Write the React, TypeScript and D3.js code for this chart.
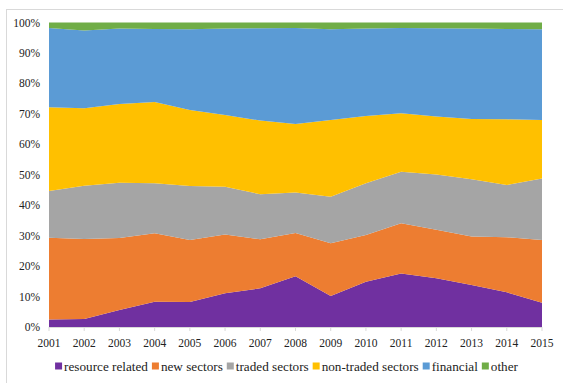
import React from "react";
import * as d3 from "d3";

// Sector shares of total (percent), 2001–2015
const years = [2001, 2002, 2003, 2004, 2005, 2006, 2007, 2008, 2009, 2010, 2011, 2012, 2013, 2014, 2015];
const resourceRelated = [2.5, 2.6, 5.6, 8.3, 8.2, 11.1, 12.7, 16.7, 10.2, 14.9, 17.6, 16.0, 13.8, 11.4, 8.0];
const newSectors = [26.8, 26.3, 23.6, 22.5, 20.4, 19.3, 16.1, 14.2, 17.3, 15.3, 16.5, 15.9, 15.9, 18.1, 20.6];
const tradedSectors = [15.4, 17.5, 18.2, 16.4, 17.7, 15.7, 14.8, 13.3, 15.3, 17.0, 16.9, 18.2, 18.8, 17.1, 20.2];
const nonTradedSectors = [27.5, 25.4, 25.8, 26.7, 25.0, 23.5, 24.2, 22.5, 25.2, 22.1, 19.2, 19.0, 19.8, 21.6, 19.2];
const financial = [26.0, 25.6, 24.8, 24.0, 26.5, 28.4, 30.3, 31.5, 29.8, 28.7, 28.0, 29.0, 29.7, 29.7, 29.8];
const other = [1.8, 2.6, 2.0, 2.1, 2.2, 2.0, 1.9, 1.8, 2.2, 2.0, 1.8, 1.9, 2.0, 2.1, 2.2];

const seriesNames = ["resource related", "new sectors", "traded sectors", "non-traded sectors", "financial", "other"];
const seriesValues = [resourceRelated, newSectors, tradedSectors, nonTradedSectors, financial, other];
const seriesColors = ["#7030A0", "#ED7D31", "#A5A5A5", "#FFC000", "#5B9BD5", "#70AD47"];
const yTicks = [0, 0.1, 0.2, 0.3, 0.4, 0.5, 0.6, 0.7, 0.8, 0.9, 1.0];

const W = 563;
const H = 383;
const margin = { left: 49, right: 21, top: 22.5, bottom: 56 };
const FONT = "Liberation Serif";
const TICK_SIZE = 11.5;
const LEGEND_SIZE = 13.2;

let measureCtx: CanvasRenderingContext2D | null = null;
function textWidth(s: string, size: number) {
  if (!measureCtx) measureCtx = document.createElement("canvas").getContext("2d");
  if (!measureCtx) return s.length * size * 0.45;
  measureCtx.font = `${size}px "${FONT}"`;
  return measureCtx.measureText(s).width;
}

export default function App() {
  const rows = years.map((yr, i) => {
    const r: any = { year: yr };
    seriesNames.forEach((n, k) => (r[n] = seriesValues[k][i]));
    return r;
  });
  const layers = d3.stack<any>().keys(seriesNames).offset(d3.stackOffsetExpand)(rows);

  const x = d3.scaleLinear()
    .domain([years[0], years[years.length - 1]])
    .range([margin.left, W - margin.right]);
  const y = d3.scaleLinear().domain([0, 1]).range([H - margin.bottom, margin.top]);

  const area = d3.area<any>()
    .x((d) => x(d.data.year))
    .y0((d) => y(d[0]))
    .y1((d) => y(d[1]));

  const pct = d3.format(".0%");
  const axisY = y(0);

  // legend layout
  const sq = 7;
  const gapSq = 2;
  const gapItem = 4;
  const items: { name: string; color: string; x: number }[] = [];
  let cx = 0;
  seriesNames.forEach((n, i) => {
    items.push({ name: n, color: seriesColors[i], x: cx });
    cx += sq + gapSq + textWidth(n, LEGEND_SIZE) + gapItem;
  });
  const legendW = cx - gapItem;
  const legendX = 36 + (501 - legendW) / 2;

  return (
    <svg width={W} height={H} style={{ position: "absolute", left: 0, top: 0, display: "block" }}>
      <rect x={6.5} y={9.5} width={W + 20} height={H + 20} fill="#fff" stroke="#D9D9D9" />
      <g>
        {layers.map((layer, i) => (
          <path key={seriesNames[i]} d={area(layer as any) || ""} fill={seriesColors[i]} />
        ))}
      </g>
      <line x1={x(years[0])} x2={x(years[years.length - 1])} y1={axisY + 0.5} y2={axisY + 0.5} stroke="#D9D9D9" />
      <g>
        {years.map((yr) => (
          <line key={yr} x1={x(yr)} x2={x(yr)} y1={axisY} y2={axisY + 4} stroke="#D9D9D9" />
        ))}
      </g>
      <g fontFamily={FONT} fontSize={TICK_SIZE} fill="#222">
        {years.map((yr) => (
          <text key={yr} x={x(yr)} y={axisY + 20} textAnchor="middle">
            {String(yr)}
          </text>
        ))}
        {yTicks.map((t) => (
          <text key={t} x={margin.left - 9} y={y(t)} dy="0.35em" textAnchor="end">
            {pct(t)}
          </text>
        ))}
      </g>
      <g transform={`translate(${legendX},371)`} fontFamily={FONT} fontSize={LEGEND_SIZE} fill="#222">
        {items.map((it) => (
          <g key={it.name} transform={`translate(${it.x},0)`}>
            <rect x={0} y={-sq - 1.5} width={sq} height={sq} fill={it.color} />
            <text x={sq + gapSq} y={0}>
              {it.name}
            </text>
          </g>
        ))}
      </g>
    </svg>
  );
}
